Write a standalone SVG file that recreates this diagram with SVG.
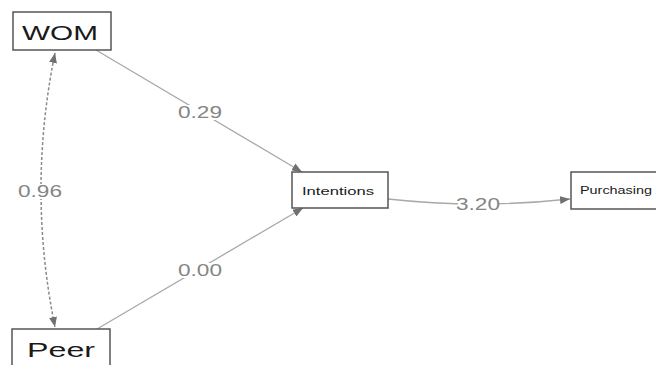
<svg xmlns="http://www.w3.org/2000/svg" width="656" height="365" viewBox="0 0 656 365">
<style>
.box{fill:#fff;stroke:#555;stroke-width:1.5}
.lbl{font-family:"Liberation Sans",Arial,sans-serif;fill:#1a1a1a}
.edge{fill:none;stroke:#a9a9a9;stroke-width:1.3}
.dash{fill:none;stroke:#8a8a8a;stroke-width:1.5;stroke-dasharray:3 2}
.bg{fill:#fff}
.ew{font-family:"Liberation Sans",Arial,sans-serif;font-size:16px;fill:#858585;text-anchor:middle}
</style>
<defs>
<marker id="ah" viewBox="0 0 10 8" refX="10" refY="4" markerWidth="10" markerHeight="8" markerUnits="userSpaceOnUse" orient="auto-start-reverse">
<path d="M0,0 L10,4 L0,8 z" fill="#707070"/>
</marker>
</defs>
<rect width="656" height="365" fill="#fff"/>
<g id="connectors">
<path class="edge" d="M96,50 L302,172" marker-end="url(#ah)"/>
<path class="edge" d="M97,329 L303,208" marker-end="url(#ah)"/>
<path class="edge" d="M388,199 Q478,209 570,199" marker-end="url(#ah)"/>
<path class="dash" d="M55,53 Q27,190 55,327" marker-start="url(#ah)" marker-end="url(#ah)"/>
<rect class="bg" x="180" y="105" width="40" height="15"/>
<rect class="bg" x="180" y="263" width="40" height="15"/>
<rect class="bg" x="458" y="197" width="40" height="15"/>
<rect class="bg" x="20" y="184" width="40" height="15"/>
<text class="ew" x="200" y="118" textLength="44" lengthAdjust="spacingAndGlyphs">0.29</text>
<text class="ew" x="200" y="276" textLength="44" lengthAdjust="spacingAndGlyphs">0.00</text>
<text class="ew" x="478" y="210" textLength="44" lengthAdjust="spacingAndGlyphs">3.20</text>
<text class="ew" x="40" y="197" textLength="44" lengthAdjust="spacingAndGlyphs">0.96</text>
</g>
<g id="WOM">
<rect class="box" x="13" y="12" width="98" height="38"/>
<text class="lbl" x="22" y="40" font-size="20" textLength="76" lengthAdjust="spacingAndGlyphs">WOM</text>
</g>
<g id="Peer">
<rect class="box" x="12" y="329" width="98" height="42"/>
<text class="lbl" x="27" y="357" font-size="21" textLength="68" lengthAdjust="spacingAndGlyphs">Peer</text>
</g>
<g id="Intentions">
<rect class="box" x="292" y="172" width="96" height="36"/>
<text class="lbl" x="302" y="195" font-size="11.5" textLength="72" lengthAdjust="spacingAndGlyphs">Intentions</text>
</g>
<g id="Purchasing">
<rect class="box" x="571" y="172" width="100" height="37"/>
<text class="lbl" x="580" y="194" font-size="10.5" textLength="72" lengthAdjust="spacingAndGlyphs">Purchasing</text>
</g>
</svg>
